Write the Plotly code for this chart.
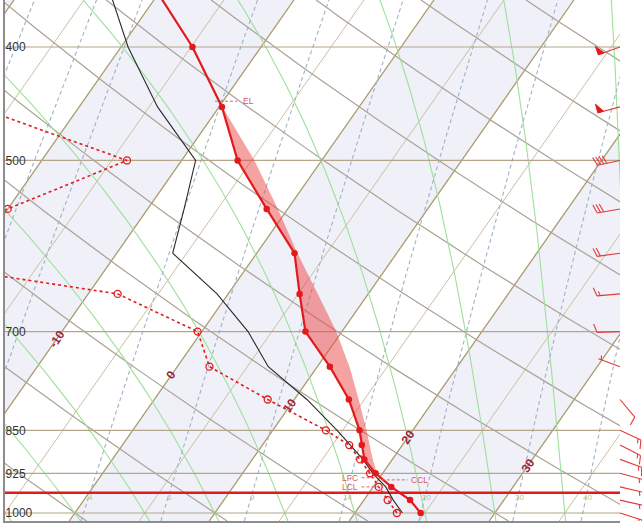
import numpy as np
import plotly.graph_objects as go

# ---------------- Sounding (hPa, degC) ----------------
pressure = [1000, 975, 950, 925, 900, 875, 850, 800, 750, 700, 650, 600, 550, 500, 450, 400, 350]
temperature = [24.7, 23.3, 21.3, 19.5, 18.0, 17.1, 16.2, 13.9, 10.9, 7.4, 5.1, 2.7, -1.5, -6.0, -9.8, -14.9, -21.4]
dewpoint = [23.0, 21.7, 20.4, 19.1, 17.7, 16.2, 13.8, 8.1, 2.3, -0.3, -7.9, -29.0, -20.0, -13.9, -27.3, -35.0, -42.0]
wetbulb = [23.4, 22.1, 20.9, 19.3, 17.9, 16.3, 14.6, 10.9, 6.5, 3.3, -0.8, -6.0, -7.4, -9.0, -14.4, -19.5, -24.5]

# Lifted parcel (moist ascent) from the LFC up to the EL
parcel_p = [925, 900, 850, 800, 750, 700, 650, 600, 550, 500, 445]
parcel_t = [19.6, 18.6, 16.7, 14.6, 12.3, 9.6, 6.4, 2.9, -0.7, -4.8, -10.3]

# Wind profile
wind_p = [400, 450, 500, 550, 600, 650, 700, 750, 800, 850, 875, 900, 925, 950, 975, 1000]
wind_dir = [250, 255, 258, 260, 262, 265, 268, 290, 140, 115, 117, 110, 105, 103, 103, 108]
wind_kt = [50, 50, 40, 30, 20, 15, 10, 5, 10, 15, 15, 15, 15, 15, 15, 15]

# Diagnostic levels (hPa)
el_p = 445
lfc_p = 933
lcl_p = 950
ccl_p = 937
sfc_p = 961

# Diagram furniture
isobar_levels = [400, 500, 700, 850, 925, 1000]
isotherm_label_t = [-10, 0, 10, 20, 30]
isotherm_label_p = [710, 763, 809, 861, 910]
mixing_ratios = [1, 1.5, 2, 4, 6, 9, 14, 20, 30, 40]
mixing_label_p = 958
theta_w_lines = list(range(-20, 45, 5))
theta_lines_c = list(range(-40, 200, 10))

# ---------------- Diagram geometry ----------------
FIG_W, FIG_H = 642, 526
X_DOMAIN = [5 / FIG_W, 620 / FIG_W]
Y_DOMAIN = [5 / FIG_H, 1.0]
P_BOT, P_TOP = 1015.9, 364.7
X_MIN, X_MAX = -4.99, 38.94
SKEW = 25.43  # degC of skew per unit of ln(p)


def skew_x(t, p):
    return np.asarray(t, float) + SKEW * np.log(1000.0 / np.asarray(p, float))


def sat_vp(tc):
    return 6.112 * np.exp(17.67 * tc / (tc + 243.5))


def dew_from_vp(e):
    a = np.log(e / 6.112)
    return 243.5 * a / (17.67 - a)


RD, CP, LV, EPS = 287.04, 1005.7, 2.501e6, 0.622


def moist_dtdp(T, p):
    e = sat_vp(T - 273.15)
    rs = EPS * e / (p - e)
    return (RD * T + LV * rs) / (CP + LV * LV * rs * EPS / (RD * T * T)) / p


def moist_path(t0, ps):
    out = [t0 + 273.15]
    for i in range(1, len(ps)):
        p0, p1 = ps[i - 1], ps[i]
        h = p1 - p0
        t = out[-1]
        k1 = moist_dtdp(t, p0)
        k2 = moist_dtdp(t + h * k1 / 2, p0 + h / 2)
        k3 = moist_dtdp(t + h * k2 / 2, p0 + h / 2)
        k4 = moist_dtdp(t + h * k3, p1)
        out.append(t + h * (k1 + 2 * k2 + 2 * k3 + k4) / 6)
    return np.array(out) - 273.15


def joined(segments):
    xs, ys = [], []
    for x, y in segments:
        xs += list(x) + [None]
        ys += list(y) + [None]
    return xs, ys


traces = []

# Alternating shaded temperature bands
band_segs = []
for t0 in range(-100, 60, 20):
    bx = [skew_x(t0, P_BOT), skew_x(t0, P_TOP), skew_x(t0 + 10, P_TOP), skew_x(t0 + 10, P_BOT)]
    band_segs.append((bx, [P_BOT, P_TOP, P_TOP, P_BOT]))
bx, by = joined(band_segs)
traces.append(go.Scatter(x=bx, y=by, mode="lines", fill="toself", fillcolor="#eff0f8",
                         line=dict(width=0), hoverinfo="skip"))

# Isotherms
for step_width, color, sel in [(1.0, "#cbbf9f", 5), (1.3, "#ab9a6c", 10)]:
    segs = []
    for t in range(-100, 60, 5):
        if (t % 10 == 0) == (sel == 10):
            segs.append(([skew_x(t, P_BOT), skew_x(t, P_TOP)], [P_BOT, P_TOP]))
    x, y = joined(segs)
    traces.append(go.Scatter(x=x, y=y, mode="lines", line=dict(color=color, width=step_width),
                             hoverinfo="skip"))

# Dry adiabats
p_fine = np.exp(np.linspace(np.log(P_BOT), np.log(P_TOP), 60))
segs = []
for th in theta_lines_c:
    tk = (th + 273.15) * (p_fine / 1000.0) ** 0.2857 - 273.15
    segs.append((skew_x(tk, p_fine), p_fine))
x, y = joined(segs)
traces.append(go.Scatter(x=x, y=y, mode="lines", line=dict(color="#aaa294", width=1.2),
                         hoverinfo="skip"))

# Saturated (pseudo) adiabats
p_up = np.arange(1000.0, P_TOP - 6, -5.0)
p_dn = np.arange(1000.0, P_BOT + 6, 5.0)
segs = []
for tw in theta_w_lines:
    t_up = moist_path(tw, p_up)
    t_dn = moist_path(tw, p_dn)
    pp = np.concatenate([p_dn[::-1], p_up[1:]])
    tt = np.concatenate([t_dn[::-1], t_up[1:]])
    segs.append((skew_x(tt, pp), pp))
x, y = joined(segs)
traces.append(go.Scatter(x=x, y=y, mode="lines", line=dict(color="#9ee09a", width=1.1),
                         hoverinfo="skip"))

# Saturation mixing-ratio lines
segs = []
for w in mixing_ratios:
    e = w * p_fine / (622.0 + w)
    segs.append((skew_x(dew_from_vp(e), p_fine), p_fine))
x, y = joined(segs)
traces.append(go.Scatter(x=x, y=y, mode="lines",
                         line=dict(color="#9fb2c4", width=1.1, dash="4px,3px"), hoverinfo="skip"))

# Isobars
segs = [([X_MIN, X_MAX], [p, p]) for p in isobar_levels]
x, y = joined(segs)
traces.append(go.Scatter(x=x, y=y, mode="lines", line=dict(color="#b3a68a", width=1.2),
                         hoverinfo="skip"))

# Surface pressure line
traces.append(go.Scatter(x=[X_MIN, X_MAX], y=[sfc_p, sfc_p], mode="lines",
                         line=dict(color="#e31a1c", width=2.4), hoverinfo="skip"))

# Positive area between environment and parcel
env_sel = [(p, t) for p, t in zip(pressure, temperature) if el_p < p <= parcel_p[0]]
poly_p = [p for p, _ in env_sel] + [parcel_p[-1]] + parcel_p[-2::-1]
poly_t = [t for _, t in env_sel] + [parcel_t[-1]] + parcel_t[-2::-1]
traces.append(go.Scatter(x=skew_x(poly_t, poly_p), y=poly_p, mode="lines", fill="toself",
                         fillcolor="rgba(236,70,70,0.5)", line=dict(width=0), hoverinfo="skip"))

# Wet-bulb temperature
traces.append(go.Scatter(x=skew_x(wetbulb, pressure), y=pressure, mode="lines",
                         line=dict(color="#2a2a2a", width=1.1), hoverinfo="skip"))

# Dewpoint
traces.append(go.Scatter(x=skew_x(dewpoint, pressure), y=pressure, mode="lines+markers",
                         line=dict(color="#e31a1c", width=1.6, dash="3px,3px"),
                         marker=dict(symbol="circle-open", size=7, color="#e31a1c",
                                     line=dict(width=1.3)),
                         hoverinfo="skip"))

# Temperature
traces.append(go.Scatter(x=skew_x(temperature, pressure), y=pressure, mode="lines+markers",
                         line=dict(color="#e31a1c", width=2.2),
                         marker=dict(symbol="circle", size=6.5, color="#e31a1c"),
                         hoverinfo="skip"))


def interp_env(p):
    lp = np.log(pressure[::-1])
    return float(np.interp(np.log(p), lp, temperature[::-1]))


# Level markers (EL, LFC, LCL, CCL)
mark_col = "#e0555a"
annotations = []
el_x = float(skew_x(interp_env(el_p), el_p))
ccl_x = float(skew_x(interp_env(ccl_p), ccl_p))
low_x = ccl_x  # LFC / LCL tags share the same anchor just left of the profile
segs = [([el_x - 0.3, el_x + 1.3], [el_p, el_p]),
        ([low_x - 1.55, low_x - 0.5], [lfc_p, lfc_p]),
        ([low_x - 1.55, low_x - 0.3], [lcl_p, lcl_p]),
        ([ccl_x - 0.1, ccl_x + 1.75], [ccl_p, ccl_p])]
x, y = joined(segs)
traces.append(go.Scatter(x=x, y=y, mode="lines", line=dict(color=mark_col, width=0.9, dash="3px,2px"),
                         hoverinfo="skip"))
for txt, xx, pp, anc in [("EL", el_x + 1.55, el_p, "left"), ("LFC", low_x - 1.65, lfc_p, "right"),
                          ("LCL", low_x - 1.65, lcl_p, "right"), ("CCL", ccl_x + 1.85, ccl_p, "left")]:
    annotations.append(dict(x=xx, y=np.log10(pp), xref="x", yref="y", text=txt, showarrow=False,
                            xanchor=anc, yanchor="middle",
                            font=dict(size=8.5, color=mark_col, family="Liberation Sans, Arial")))

# Isotherm labels
for t, p in zip(isotherm_label_t, isotherm_label_p):
    annotations.append(dict(x=float(skew_x(t, p)), y=np.log10(p), xref="x", yref="y", text=f"<b>{t}</b>",
                            showarrow=False, textangle=-55,
                            font=dict(size=12, color="#9b2438", family="Liberation Sans, Arial")))

# Mixing-ratio labels
for w in mixing_ratios:
    e = w * mixing_label_p / (622.0 + w)
    xx = float(skew_x(dew_from_vp(e), mixing_label_p))
    if X_MIN < xx < X_MAX:
        annotations.append(dict(x=xx, y=np.log10(mixing_label_p), xref="x", yref="y", text=f"{w:g}",
                                showarrow=False, yanchor="top",
                                font=dict(size=8, color="#b4c88c", family="Liberation Sans, Arial")))

# Wind barbs, drawn in pixel units along x and on the pressure axis along y
PLOT_H = (Y_DOMAIN[1] - Y_DOMAIN[0]) * FIG_H
LOG_SPAN = np.log10(P_BOT) - np.log10(P_TOP)
BASE_X = X_DOMAIN[1] * FIG_W


def screen_dir(angle):
    a = np.radians(angle)
    return np.sin(a), -np.cos(a)


barb_segs, flag_segs = [], []
for p, d, spd in zip(wind_p, wind_dir, wind_kt):
    def pt(dx, dy, p=p):
        return BASE_X + dx, p * 10 ** (dy * LOG_SPAN / PLOT_H)

    sx, sy = screen_dir(d)
    fx, fy = screen_dir(d + 70)
    nx, ny = screen_dir(d + 90)
    L, F = 23.0, 9.0
    pts = [pt(0, 0), pt(L * sx, L * sy)]
    barb_segs.append(([q[0] for q in pts], [q[1] for q in pts]))
    n_flag, rem = divmod(int(spd), 50)
    n_full, rem = divmod(rem, 10)
    half = rem >= 5
    pos = L
    for _ in range(n_flag):
        tri = [pt(pos * sx, pos * sy), pt(pos * sx + F * nx, pos * sy + F * ny),
               pt((pos - 6) * sx, (pos - 6) * sy), pt(pos * sx, pos * sy)]
        flag_segs.append(([q[0] for q in tri], [q[1] for q in tri]))
        pos -= 7.5
    if n_flag == 0 and n_full == 0:
        pos -= 3.2
    for _ in range(n_full):
        seg = [pt(pos * sx, pos * sy), pt(pos * sx + F * fx, pos * sy + F * fy)]
        barb_segs.append(([q[0] for q in seg], [q[1] for q in seg]))
        pos -= 3.2
    if half:
        seg = [pt(pos * sx, pos * sy), pt(pos * sx + 0.5 * F * fx, pos * sy + 0.5 * F * fy)]
        barb_segs.append(([q[0] for q in seg], [q[1] for q in seg]))

x, y = joined(barb_segs)
traces.append(go.Scatter(x=x, y=y, mode="lines", xaxis="x2", yaxis="y2",
                         line=dict(color="#e23a3a", width=1.1), hoverinfo="skip"))
x, y = joined(flag_segs)
traces.append(go.Scatter(x=x, y=y, mode="lines", xaxis="x2", yaxis="y2", fill="toself",
                         fillcolor="#e31a1c", line=dict(color="#e31a1c", width=1), hoverinfo="skip"))

fig = go.Figure(traces)
y_range = [np.log10(P_BOT), np.log10(P_TOP)]
fig.update_layout(
    template="none",
    width=FIG_W, height=FIG_H,
    margin=dict(l=0, r=0, t=0, b=0),
    paper_bgcolor="white", plot_bgcolor="rgba(0,0,0,0)",
    showlegend=False,
    annotations=annotations,
    xaxis=dict(domain=X_DOMAIN, range=[X_MIN, X_MAX], showgrid=False, zeroline=False,
               showticklabels=False, ticks="", showline=True, linecolor="#8d8d8d", linewidth=2),
    yaxis=dict(domain=Y_DOMAIN, type="log", range=y_range, showgrid=False, zeroline=False,
               tickvals=isobar_levels, ticktext=[str(v) for v in isobar_levels],
               ticklabelposition="inside", ticks="",
               tickfont=dict(size=12, color="#333333", family="Liberation Sans, Arial"),
               showline=True, linecolor="#8d8d8d", linewidth=2),
    xaxis2=dict(domain=[0, 1], range=[0, FIG_W], anchor="y2", visible=False),
    yaxis2=dict(domain=Y_DOMAIN, type="log", range=y_range, anchor="x2", visible=False),
)
fig.write_html("out.html")
